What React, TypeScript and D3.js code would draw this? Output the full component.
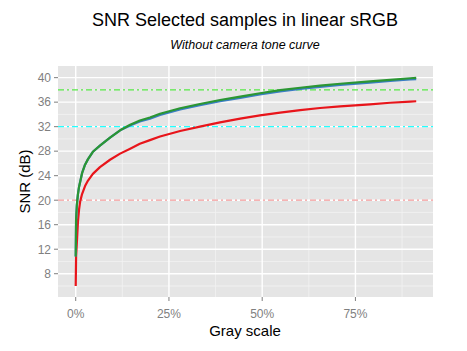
import * as d3 from 'd3';

// gray level (fraction of full scale) of the samples
const grayLevels = [
  0, 0.001, 0.003, 0.006, 0.009, 0.012, 0.017, 0.025, 0.033, 0.046, 0.065, 0.092, 0.119, 0.146, 0.172,
  0.199, 0.226, 0.28, 0.333, 0.387, 0.441, 0.494, 0.548, 0.602, 0.655, 0.709, 0.789, 0.843, 0.897, 0.913,
];
const snrRed = [
  6.0, 10.8, 13.0, 16.5, 18.5, 19.8, 21.0, 22.3, 23.2, 24.3, 25.4, 26.6, 27.6, 28.4, 29.2,
  29.8, 30.4, 31.3, 32.0, 32.7, 33.3, 33.85, 34.3, 34.7, 35.05, 35.3, 35.65, 35.9, 36.1, 36.15,
];
const snrGreen = [
  10.8, 16.8, 19.2, 21.0, 22.2, 23.0, 24.4, 25.8, 26.7, 27.9, 28.9, 30.2, 31.4, 32.3, 33.0,
  33.5, 34.1, 35.0, 35.7, 36.35, 36.9, 37.45, 37.95, 38.35, 38.7, 39.0, 39.4, 39.65, 39.9, 39.95,
];
const snrBlue = [
  10.8, 16.8, 19.2, 21.0, 22.2, 23.0, 24.4, 25.8, 26.7, 27.9, 28.9, 30.2, 31.4, 32.2, 32.85,
  33.3, 33.9, 34.8, 35.5, 36.15, 36.7, 37.25, 37.75, 38.15, 38.5, 38.8, 39.2, 39.45, 39.7, 39.75,
];

const refLevels = [38, 32, 20];
const refColors = ['#55e844', '#22ffff', '#f29a9a'];

const yTicks = [8, 12, 16, 20, 24, 28, 32, 36, 40];
const yMinor = [6, 10, 14, 18, 22, 26, 30, 34, 38];
const xTicks = [0, 0.25, 0.5, 0.75];
const xTickLabels = ['0%', '25%', '50%', '75%'];
const xMinor = [0.125, 0.375, 0.625, 0.875];

const W = 467;
const H = 351;
const panel = { left: 58, right: 433, top: 66, bottom: 297 };
const font = '"Liberation Sans", Arial, sans-serif';

const App = () => {
  const x = d3.scaleLinear().domain([-0.0475, 0.958]).range([panel.left, panel.right]);
  const y = d3.scaleLinear().domain([4.2, 41.9]).range([panel.bottom, panel.top]);

  const line = (vals: number[]) =>
    d3
      .line<number>()
      .x((_, i) => x(grayLevels[i]))
      .y((d) => y(d))(vals) || '';

  const series = [
    { vals: snrRed, color: '#e8151b' },
    { vals: snrBlue, color: '#3a7ec4' },
    { vals: snrGreen, color: '#2b9633' },
  ];

  return (
    <svg width={W} height={H} style={{ position: 'absolute', left: 0, top: 0, background: '#fff' }}>
      <rect
        x={panel.left}
        y={panel.top}
        width={panel.right - panel.left}
        height={panel.bottom - panel.top}
        fill="#e5e5e5"
      />
      {/* minor grid */}
      {yMinor.map((v) => (
        <line key={'ym' + v} x1={panel.left} x2={panel.right} y1={y(v)} y2={y(v)} stroke="#f2f2f2" strokeWidth={0.8} />
      ))}
      {xMinor.map((v) => (
        <line key={'xm' + v} x1={x(v)} x2={x(v)} y1={panel.top} y2={panel.bottom} stroke="#f2f2f2" strokeWidth={0.8} />
      ))}
      {/* major grid */}
      {yTicks.map((v) => (
        <line key={'yg' + v} x1={panel.left} x2={panel.right} y1={y(v)} y2={y(v)} stroke="#fff" strokeWidth={1.4} />
      ))}
      {xTicks.map((v) => (
        <line key={'xg' + v} x1={x(v)} x2={x(v)} y1={panel.top} y2={panel.bottom} stroke="#fff" strokeWidth={1.4} />
      ))}

      {refLevels.map((v, i) => (
        <line
          key={'ref' + v}
          x1={panel.left}
          x2={panel.right}
          y1={y(v)}
          y2={y(v)}
          stroke={refColors[i]}
          strokeWidth={1.3}
          strokeDasharray="6 3 2 3"
        />
      ))}

      {series.map((s) => (
        <path key={s.color} d={line(s.vals)} fill="none" stroke={s.color} strokeWidth={2.2} strokeLinejoin="round" />
      ))}

      {/* y axis */}
      {yTicks.map((v) => (
        <g key={'yt' + v}>
          <line x1={panel.left - 4} x2={panel.left} y1={y(v)} y2={y(v)} stroke="#7f7f7f" strokeWidth={1} />
          <text
            x={panel.left - 7}
            y={y(v)}
            dy="0.36em"
            textAnchor="end"
            fontSize={12}
            fontFamily={font}
            fill="#7f7f7f"
          >
            {v}
          </text>
        </g>
      ))}
      {/* x axis */}
      {xTicks.map((v, i) => (
        <g key={'xt' + v}>
          <line x1={x(v)} x2={x(v)} y1={panel.bottom} y2={panel.bottom + 4} stroke="#7f7f7f" strokeWidth={1} />
          <text x={x(v)} y={panel.bottom + 21} textAnchor="middle" fontSize={12} fontFamily={font} fill="#7f7f7f">
            {xTickLabels[i]}
          </text>
        </g>
      ))}

      <text x={245} y={336} textAnchor="middle" fontSize={15} fontFamily={font} fill="#000">
        Gray scale
      </text>
      <text
        transform={`translate(30, ${(panel.top + panel.bottom) / 2}) rotate(-90)`}
        textAnchor="middle"
        fontSize={15}
        fontFamily={font}
        fill="#000"
      >
        SNR (dB)
      </text>

      <text x={245} y={26} textAnchor="middle" fontSize={18} fontFamily={font} fill="#000">
        SNR Selected samples in linear sRGB
      </text>
      <text x={245} y={49} textAnchor="middle" fontSize={12.5} fontStyle="italic" fontFamily={font} fill="#000">
        Without camera tone curve
      </text>
    </svg>
  );
};

export default App;
